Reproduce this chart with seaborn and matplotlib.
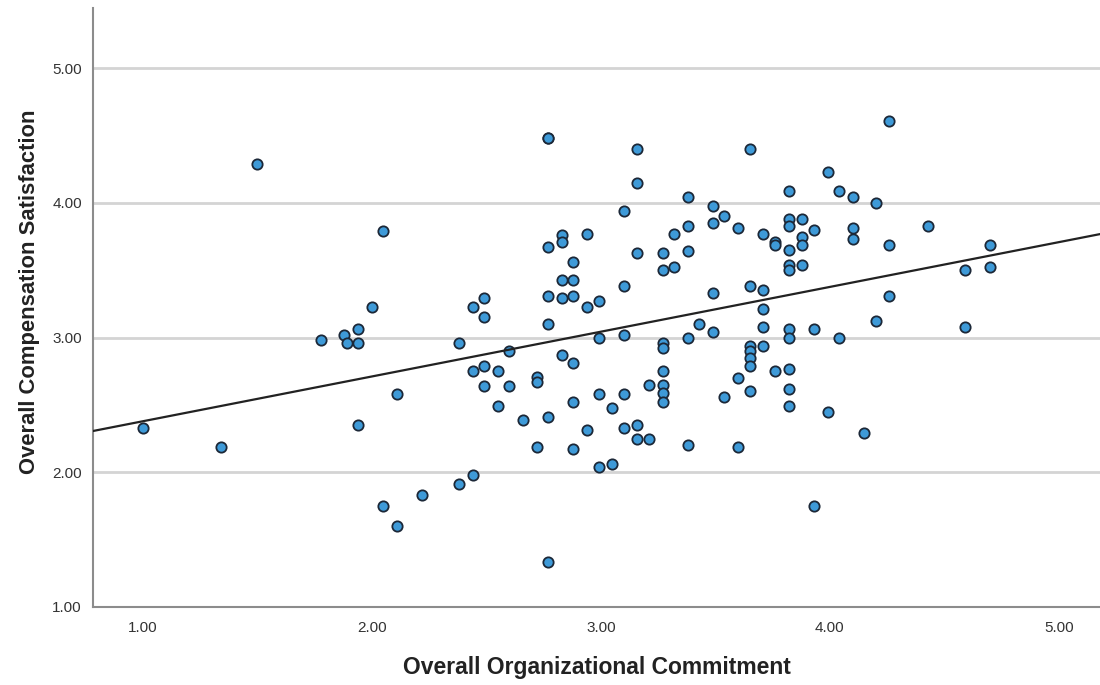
import matplotlib
matplotlib.use("Agg")
import matplotlib.pyplot as plt
import seaborn as sns
import pandas as pd

# Values
commitment = [
    1.00, 1.34, 1.50, 1.78, 1.88, 1.89, 1.94, 1.94, 1.94, 2.00,
    2.05, 2.05, 2.11, 2.11, 2.22, 2.38, 2.38, 2.44, 2.44, 2.44,
    2.49, 2.49, 2.49, 2.49, 2.55, 2.55, 2.60, 2.60, 2.66, 2.72,
    2.72, 2.72, 2.77, 2.77, 2.77, 2.77, 2.77, 2.77, 2.77, 2.83,
    2.83, 2.83, 2.83, 2.83, 2.88, 2.88, 2.88, 2.88, 2.88, 2.88,
    2.94, 2.94, 2.94, 2.99, 2.99, 2.99, 2.99, 3.05, 3.05, 3.10,
    3.10, 3.10, 3.10, 3.10, 3.16, 3.16, 3.16, 3.16, 3.16, 3.21,
    3.21, 3.27, 3.27, 3.27, 3.27, 3.27, 3.27, 3.27, 3.27, 3.32,
    3.32, 3.38, 3.38, 3.38, 3.38, 3.38, 3.43, 3.49, 3.49, 3.49,
    3.49, 3.54, 3.54, 3.60, 3.60, 3.60, 3.65, 3.65, 3.65, 3.65,
    3.65, 3.65, 3.65, 3.71, 3.71, 3.71, 3.71, 3.71, 3.76, 3.76,
    3.76, 3.82, 3.82, 3.82, 3.82, 3.82, 3.82, 3.82, 3.82, 3.82,
    3.82, 3.82, 3.88, 3.88, 3.88, 3.88, 3.93, 3.93, 3.93, 3.99,
    3.99, 4.04, 4.04, 4.10, 4.10, 4.10, 4.15, 4.20, 4.20, 4.26,
    4.26, 4.26, 4.43, 4.59, 4.59, 4.70, 4.70,
]
satisfaction = [
    2.33, 2.19, 4.29, 2.98, 3.02, 2.96, 3.06, 2.96, 2.35, 3.23,
    3.79, 1.75, 2.58, 1.60, 1.83, 2.96, 1.91, 3.23, 2.75, 1.98,
    3.29, 3.15, 2.79, 2.64, 2.75, 2.49, 2.90, 2.64, 2.39, 2.71,
    2.67, 2.19, 4.48, 4.48, 3.67, 3.31, 3.10, 2.41, 1.33, 3.76,
    3.71, 3.43, 3.29, 2.87, 3.56, 3.43, 3.31, 2.81, 2.52, 2.17,
    3.77, 3.23, 2.31, 3.27, 3.00, 2.58, 2.04, 2.48, 2.06, 3.94,
    3.38, 3.02, 2.58, 2.33, 4.40, 4.15, 3.63, 2.35, 2.25, 2.65,
    2.25, 3.63, 3.50, 2.96, 2.92, 2.75, 2.65, 2.59, 2.52, 3.77,
    3.52, 4.04, 3.83, 3.64, 3.00, 2.20, 3.10, 3.98, 3.85, 3.33,
    3.04, 3.90, 2.56, 3.81, 2.70, 2.19, 4.40, 3.38, 2.94, 2.90,
    2.85, 2.79, 2.60, 3.77, 3.35, 3.21, 3.08, 2.94, 3.71, 3.69,
    2.75, 4.09, 3.88, 3.83, 3.65, 3.54, 3.50, 3.06, 3.00, 2.77,
    2.62, 2.49, 3.88, 3.75, 3.69, 3.54, 3.80, 3.06, 1.75, 4.23,
    2.45, 4.09, 3.00, 4.04, 3.81, 3.73, 2.29, 4.00, 3.12, 4.61,
    3.69, 3.31, 3.83, 3.50, 3.08, 3.69, 3.52,
]
x_ticks = [1, 2, 3, 4, 5]
y_ticks = [1, 2, 3, 4, 5]

df = pd.DataFrame({"commitment": commitment, "satisfaction": satisfaction})

sns.set_style("white")
plt.rcParams["font.family"] = ["Liberation Sans", "DejaVu Sans"]

fig = plt.figure(figsize=(11, 6.85), dpi=100)
ax = fig.add_axes([0.0845, 0.114, 0.9155, 0.874])

ax.set_xlim(0.782, 5.18)
ax.set_ylim(1.0, 5.445)

# horizontal reference lines
for v in y_ticks[1:]:
    ax.axhline(v, color="#d4d4d4", lw=2, zorder=0)

sns.scatterplot(data=df, x="commitment", y="satisfaction", ax=ax,
                s=55, color="#3e9ad8", edgecolor="#1c2838", linewidth=1.3,
                zorder=3)
# fit line across the full x range
sns.regplot(data=df, x="commitment", y="satisfaction", ax=ax, scatter=False,
            ci=None, truncate=False, line_kws={"color": "#222222", "lw": 1.6, "zorder": 4})

ax.set_xlim(0.782, 5.18)
ax.set_ylim(1.0, 5.445)
ax.set_xticks(x_ticks)
ax.set_yticks(y_ticks)
ax.set_xticklabels([f"{t:.2f}" for t in x_ticks])
ax.set_yticklabels([f"{t:.2f}" for t in y_ticks])
ax.tick_params(axis="both", labelsize=11, colors="#888888", labelcolor="#333333",
               length=5, width=1.2, direction="out")
ax.tick_params(axis="x", pad=5)
ax.tick_params(axis="y", pad=3)

for side in ["top", "right"]:
    ax.spines[side].set_visible(False)
for side in ["left", "bottom"]:
    ax.spines[side].set_color("#8c8c8c")
    ax.spines[side].set_linewidth(1.5)

ax.set_xlabel("Overall Organizational Commitment", fontsize=16.5, fontweight="bold",
              color="#222222", labelpad=15)
ax.set_ylabel("Overall Compensation Satisfaction", fontsize=15.8, fontweight="bold",
              color="#222222")
ax.yaxis.set_label_coords(-0.053, 0.527)

fig.savefig("out.png", dpi=100)
